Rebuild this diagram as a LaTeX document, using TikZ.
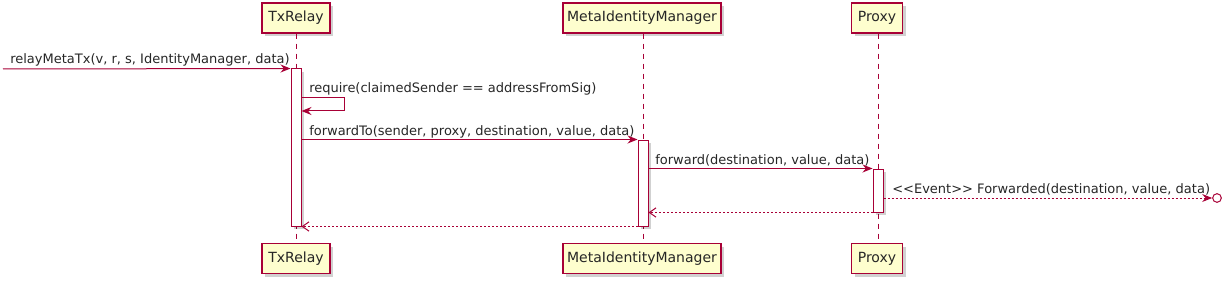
\documentclass[tikz,border=0pt]{standalone}
\usepackage{fontspec}
\setmainfont{DejaVu Sans}
\usetikzlibrary{arrows.meta,shadows,calc}
\definecolor{umlred}{HTML}{A80036}
\definecolor{umlfill}{HTML}{FEFECE}
\begin{document}
\begin{tikzpicture}[x=0.75pt,y=-0.75pt,
  shad/.style={drop shadow={shadow xshift=2.5pt,shadow yshift=-2.5pt,opacity=0.18,fill=black}},
  part/.style={draw=umlred, fill=umlfill, line width=1.1pt, minimum height=22.5pt, inner sep=0pt,
    font=\fontsize{10.5}{12}\selectfont, text=black!85, shad},
  act/.style={draw=umlred, fill=white, line width=0.75pt, minimum width=7.5pt, inner sep=0pt, shad},
  life/.style={draw=umlred, line width=0.75pt, dash pattern=on 3.75pt off 3.75pt},
  msg/.style={draw=umlred, line width=0.75pt, -{Stealth[length=7.5pt,width=6pt,inset=2.5pt]}},
  dots/.style={draw=umlred, line width=0.75pt, dash pattern=on 1.5pt off 1.5pt},
  ret/.style={dots, -{Straight Barb[length=5pt,width=7pt]}},
  evt/.style={dots, -{Stealth[length=7.5pt,width=6pt,inset=2.5pt]}},
  lbl/.style={anchor=base west, inner sep=0pt, font=\fontsize{9.75}{11}\selectfont, text=black!85}]
\useasboundingbox (0,0) rectangle (1232,285);
% participants
\node[part, minimum width=51pt] (p1) at (296,18) {TxRelay};
\node[part, minimum width=118.5pt] (p2) at (642,18) {MetaIdentityManager};
\node[part, minimum width=38.25pt] (p3) at (877,18) {Proxy};
\node[part, minimum width=51pt] (q1) at (296,258.5) {TxRelay};
\node[part, minimum width=118.5pt] (q2) at (642,258.5) {MetaIdentityManager};
\node[part, minimum width=38.25pt] (q3) at (877,258.5) {Proxy};
% lifelines
\draw[life] (p1.south -| 296,0) -- (q1.north -| 296,0);
\draw[life] (p2.south -| 643,0) -- (q2.north -| 643,0);
\draw[life] (p3.south -| 878,0) -- (q3.north -| 878,0);
% activations
\node[act, minimum height=117.75pt] (a1) at (296,147.5) {};
\node[act, minimum height=64.5pt] (a2) at (643,183) {};
\node[act, minimum height=32.25pt] (a3) at (878,190.5) {};
% messages
\coordinate (src) at (3,69);
\draw[msg] (src) -- (a1.north west);
\node[lbl] (l1) at (10,64) {relayMetaTx(v, r, s, IdentityManager, data)};
\draw[msg] (a1.east |- 0,98) -- (344,98) -- (344,111) -- (a1.east |- 0,111);
\node[lbl] (l2) at (309,93) {require(claimedSender == addressFromSig)};
\draw[msg] (a1.east |- a2.north) -- (a2.north west);
\node[lbl] (l3) at (309,135) {forwardTo(sender, proxy, destination, value, data)};
\draw[msg] (a2.east |- a3.north) -- (a3.north west);
\node[lbl] (l4) at (655,164) {forward(destination, value, data)};
\node[circle, draw=umlred, line width=0.75pt, minimum size=6.5pt, inner sep=0pt] (ev) at (1217,198) {};
\draw[evt] (a3.east |- 0,198) -- (ev.west);
\node[lbl] (l5) at (892,193) {<\kern0pt<Event>\kern0pt> Forwarded(destination, value, data)};
\draw[ret] (a3.south west) -- (a2.east |- a3.south);
\draw[ret] (a2.south west) -- (a1.south east);
\end{tikzpicture}
\end{document}
